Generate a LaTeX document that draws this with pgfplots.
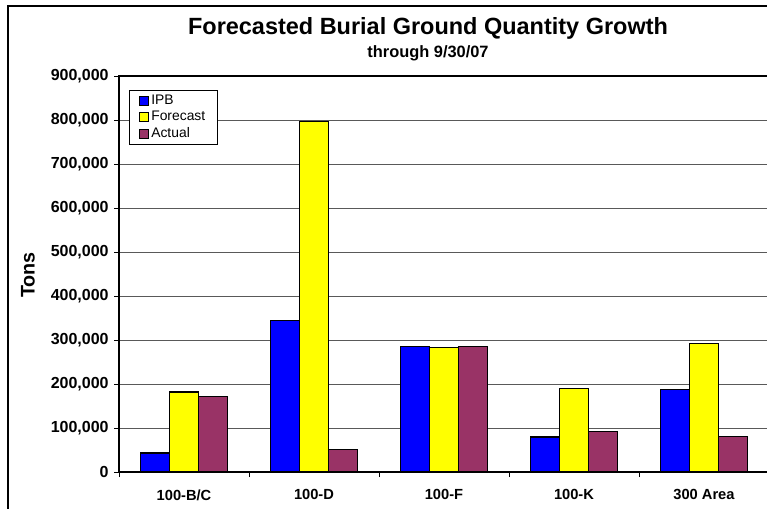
\documentclass[border=0pt]{standalone}
\usepackage{pgfplots}
\pgfplotsset{compat=1.18}
\usepackage{fontspec}
\setmainfont{Liberation Sans}

\definecolor{ipb}{RGB}{0,0,255}
\definecolor{fcst}{RGB}{255,255,0}
\definecolor{actual}{RGB}{153,51,102}

\begin{document}
\begin{tikzpicture}
% image frame: 767 x 508 px at 0.75pt per px, origin bottom left
\useasboundingbox (0,0) rectangle (575.25pt,381pt);
\clip (0,0) rectangle (575.25pt,381pt);
\draw[line width=1.1pt] (6pt,-15pt) -- (6pt,376.5pt) -- (600pt,376.5pt);

\node[anchor=base,font=\bfseries\fontsize{17.6}{20}\selectfont] at (321pt,354.75pt) {Forecasted Burial Ground Quantity Growth};
\node[anchor=base,font=\bfseries\fontsize{12.3}{14}\selectfont] at (321pt,337.5pt) {through 9/30/07};
\node[rotate=90,font=\bfseries\fontsize{14.8}{16}\selectfont] at (21pt,174.75pt) {Tons};

\begin{axis}[
  at={(89.25pt,27pt)}, anchor=south west,
  scale only axis,
  width=487.5pt, height=297pt,
  ybar=0pt,
  bar width=0.224,
  xmin=-0.5, xmax=4.5,
  ymin=0, ymax=900000,
  xtick={-0.5,0.5,...,4.5},
  x tick label as interval,
  xticklabels={100-B/C,100-D,100-F,100-K,300 Area},
  ytick={0,100000,...,900000},
  xtick pos=bottom, ytick pos=left,
  scaled y ticks=false,
  /pgf/number format/.cd, fixed, precision=0, 1000 sep={,}, assume math mode=true,
  /pgfplots/.cd,
  tick align=outside,
  major tick length=3.75pt,
  tick style={black, line width=0.75pt},
  ymajorgrids,
  grid style={draw=gray!70!black, line width=0.75pt},
  axis line style={black, line width=1.3pt},
  yticklabel style={font=\bfseries\fontsize{12}{14}\selectfont, xshift=-0.5pt},
  xticklabel style={font=\bfseries\fontsize{11}{13}\selectfont, yshift=-6pt},
  legend style={at={(0.0154,0.9646)}, anchor=north west, draw=black, line width=0.75pt,
    font=\fontsize{10.4}{12}\selectfont, row sep=-0.5pt, inner xsep=7pt, inner ysep=1.5pt},
  legend cell align=left,
  legend image code/.code={\draw[#1, line width=0.6pt] (0pt,-3.4pt) rectangle (6.75pt,3.4pt);},
  every axis plot/.append style={draw=black, line width=1.1pt},
]
\addplot[fill=ipb, bar shift=-0.224] coordinates {(0,43000) (1,344500) (2,285500) (3,79500) (4,187000)};
\addplot[fill=fcst, bar shift=0] coordinates {(0,181800) (1,796800) (2,283000) (3,190000) (4,292000)};
\addplot[fill=actual, bar shift=0.224] coordinates {(0,171800) (1,50700) (2,285500) (3,91600) (4,81000)};
\legend{IPB,Forecast,Actual}
\end{axis}
\end{tikzpicture}
\end{document}
